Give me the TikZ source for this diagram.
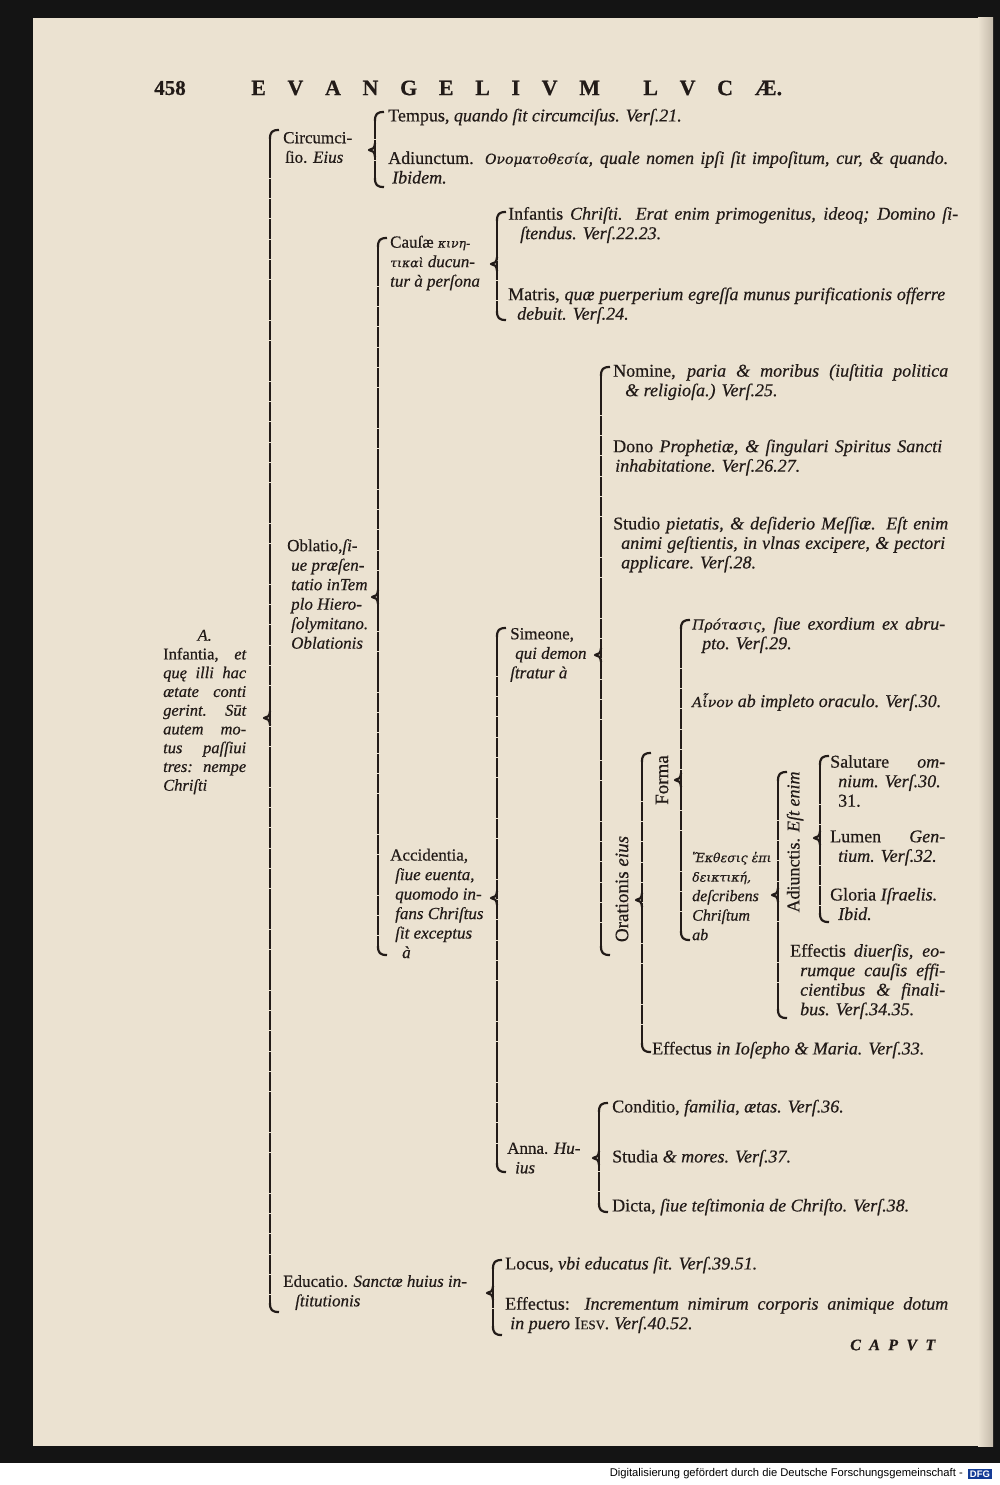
\documentclass[tikz,border=0pt]{standalone}
\usepackage{fontspec}
\setmainfont{Liberation Serif}[FakeBold=0.5]
\newfontfamily\grk{DejaVu Serif}[FakeBold=0.3]
\newfontfamily\ftsans{Liberation Sans}
\definecolor{paper}{RGB}{235,226,209}
\definecolor{paperedge}{RGB}{196,186,170}
\definecolor{ink}{RGB}{34,27,24}
\definecolor{dfgblue}{RGB}{20,60,150}
\newcommand{\iti}[1]{{\itshape #1}}
\newcommand{\gi}[1]{{\grk\itshape\fontsize{14}{19.5}\selectfont #1}}
\newcommand{\gs}[1]{{\grk\itshape\fontsize{12.5}{19.5}\selectfont #1}}
\newcommand{\jl}[2]{\makebox[#1pt][s]{#2}}
\newcommand{\mybrace}[4]{%
 \draw[bracepath] (#1+9,#2) .. controls (#1+2,#2) and (#1,#2+2) .. (#1,#2+9);
 \draw[bracepath] (#1,#4-9) .. controls (#1,#4-2) and (#1+2,#4) .. (#1+9,#4);
 \draw[bracepath,dash pattern=on 19.5pt off 0.8pt] (#1,#2+8) -- (#1,#4-8);
 \draw[bracepath] (#1,#3-7) .. controls (#1,#3-2) and (#1-3,#3) .. (#1-6,#3) .. controls (#1-3,#3) and (#1,#3+2) .. (#1,#3+7);
}
\tikzset{
 bracepath/.style={draw=ink,line width=2.2pt,line join=round},
 txt/.style={inner sep=0pt,text=ink,anchor=west,align=left,font=\fontsize{18}{19.5}\selectfont},
 narrow/.style={font=\fontsize{17}{19.5}\selectfont},
 upr/.style={anchor=center,rotate=90,font=\fontsize{19}{19}\selectfont},
}
\begin{document}
\begin{tikzpicture}[x=1pt,y=-1pt]
\useasboundingbox (0,0) rectangle (1000,1485);
% page
\fill[black!92] (0,0) rectangle (1000,1463);
\fill[white] (0,1463) rectangle (1000,1485);
\fill[paper] (33,18) rectangle (993,1446);
\shade[left color=paper,right color=paperedge] (978,18) rectangle (993,1446);
% header
\node[txt,anchor=center,font=\fontsize{21}{21}\selectfont\bfseries] (pnum) at (170,88) {458};
\node[txt,anchor=west,font=\fontsize{22}{22}\selectfont\bfseries] (head) at (251,88)
 {\makebox[531pt][s]{E\hfill V\hfill A\hfill N\hfill G\hfill E\hfill L\hfill I\hfill V\hfill M\hfill\hfill L\hfill V\hfill C\hfill Æ.}};
% level 0
\node[txt,font=\fontsize{16.5}{18.75}\selectfont] (inf) at (163,712)
 {\makebox[83pt]{\itshape A.}\\
  \makebox[83pt][s]{Infantia, \itshape et}\\
  \makebox[83pt][s]{\itshape quę illi hac}\\
  \makebox[83pt][s]{\itshape ætate conti}\\
  \makebox[83pt][s]{\itshape gerint. Sūt}\\
  \makebox[83pt][s]{\itshape autem mo-}\\
  \makebox[83pt][s]{\itshape tus paſſiui}\\
  \makebox[83pt][s]{\itshape tres: nempe}\\
  \iti{Chriſti}};
\mybrace{270}{130}{718}{1312}
% level 1
\node[txt,narrow] (circ) at (283,147.5) {Circumci-\\\hspace*{2pt}ſio. \iti{Eius}};
\node[txt,narrow] (obl) at (287,594) {Oblatio,\iti{ſi-}\\\hspace*{4pt}\iti{ue præſen-}\\\hspace*{4pt}\iti{tatio inTem}\\\hspace*{4pt}\iti{plo Hiero-}\\\hspace*{4pt}\iti{ſolymitano.}\\\hspace*{4pt}\iti{Oblationis}};
\node[txt,narrow] (edu) at (283,1292.5) {Educatio. \iti{Sanctæ huius in-}\\\hspace*{12pt}\iti{ſtitutionis}};
% Circumcisio
\mybrace{375}{112}{150}{187}
\node[txt] (temp) at (388,117) {Tempus, \iti{quando ſit circumciſus. Verſ.21.}};
\node[txt] (adi) at (388,167.5) {\jl{560}{Adiunctum. \gi{Ονοματοθεσία}\iti{, quale nomen ipſi ſit impoſitum, cur, \& quando.}}\\\hspace*{4pt}\iti{Ibidem.}};
% Oblatio
\mybrace{378}{238}{597}{955}
\node[txt,narrow] (caus) at (390,263) {Cauſæ \gs{κινη-}\\\gs{τικαὶ} \iti{ducun-}\\\iti{tur à perſona}};
\node[txt,narrow] (acc) at (390,903.5) {Accidentia,\\\hspace*{5pt}\iti{ſiue euenta,}\\\hspace*{5pt}\iti{quomodo in-}\\\hspace*{5pt}\iti{fans Chriſtus}\\\hspace*{5pt}\iti{ſit exceptus}\\\hspace*{12pt}\iti{à}};
% Causae
\mybrace{497}{212}{264}{320}
\node[txt] (infc) at (508,225) {\jl{450}{Infantis \iti{Chriſti. Erat enim primogenitus, ideoq; Domino ſi-}}\\\hspace*{12pt}\iti{ſtendus. Verſ.22.23.}};
\node[txt] (matr) at (508,305.5) {\jl{437}{Matris, \iti{quæ puerperium egreſſa munus purificationis offerre}}\\\hspace*{9pt}\iti{debuit. Verſ.24.}};
% Accidentia
\mybrace{497}{628}{898}{1172}
\node[txt,narrow] (sim) at (510,655) {Simeone,\\\hspace*{5pt}\iti{qui demon}\\\iti{ſtratur à}};
\node[txt,narrow] (anna) at (507,1158) {Anna. \iti{Hu-}\\\hspace*{8pt}\iti{ius}};
% Simeone
\mybrace{601}{367}{655}{955}
\node[txt] (nom) at (613,382) {\jl{335}{Nomine, \iti{paria \& moribus (iuſtitia politica}}\\\hspace*{12pt}\iti{\& religioſa.) Verſ.25.}};
\node[txt] (dono) at (613,457.5) {\jl{329}{Dono \iti{Prophetiæ, \& ſingulari Spiritus Sancti}}\\\hspace*{2pt}\iti{inhabitatione. Verſ.26.27.}};
\node[txt] (stud) at (613,544.5) {\jl{335}{Studio \iti{pietatis, \& deſiderio Meſſiæ. Eſt enim}}\\\hspace*{8pt}\jl{324}{\iti{animi geſtientis, in vlnas excipere, \& pectori}}\\\hspace*{8pt}\iti{applicare. Verſ.28.}};
\node[txt,upr] (orat) at (622,889) {Orationis \iti{eius}};
% Orationis
\mybrace{642}{753}{900}{1052}
\node[txt,upr] (forma) at (662,780) {Forma};
\node[txt] (effj) at (652,1050) {Effectus \iti{in Ioſepho \& Maria. Verſ.33.}};
% Forma
\mybrace{681}{620}{780}{940}
\node[txt] (prot) at (692,635) {\jl{253}{\gi{Πρότασις}\iti{, ſiue exordium ex abru-}}\\\hspace*{10pt}\iti{pto. Verſ.29.}};
\node[txt] (ainos) at (692,702) {\gi{Αἶνον} \iti{ab impleto oraculo. Verſ.30.}};
\node[txt,font=\fontsize{16}{19.5}\selectfont] (ekth) at (692,896) {\gs{Ἔκθεσις ἐπι}\\\gs{δεικτική,}\\\iti{deſcribens}\\\iti{Chriſtum}\\\iti{ab}};
% Ekthesis
\mybrace{778}{772}{895}{1018}
\node[txt,upr,font=\fontsize{18}{18}\selectfont] (adn) at (795,842) {Adiunctis. \iti{Eſt enim}};
\node[txt] (effd) at (790,981.5) {\jl{155}{Effectis \iti{diuerſis, eo-}}\\\hspace*{10pt}\jl{145}{\iti{rumque cauſis effi-}}\\\hspace*{10pt}\jl{145}{\iti{cientibus \& finali-}}\\\hspace*{10pt}\iti{bus. Verſ.34.35.}};
% Adiunctis
\mybrace{820}{756}{838}{922}
\node[txt] (sal) at (830,781) {\jl{115}{Salutare \iti{om-}}\\\hspace*{8pt}\iti{nium. Verſ.30.}\\\hspace*{8pt}31.};
\node[txt] (lum) at (830,848) {\jl{115}{Lumen \iti{Gen-}}\\\hspace*{8pt}\iti{tium. Verſ.32.}};
\node[txt] (glo) at (830,904) {Gloria \iti{Iſraelis.}\\\hspace*{8pt}\iti{Ibid.}};
% Anna
\mybrace{599}{1103}{1158}{1212}
\node[txt] (cond) at (612,1108) {Conditio, \iti{familia, ætas. Verſ.36.}};
\node[txt] (studa) at (612,1158) {Studia \iti{\& mores. Verſ.37.}};
\node[txt] (dict) at (612,1207) {Dicta, \iti{ſiue teſtimonia de Chriſto. Verſ.38.}};
% Educatio
\mybrace{493}{1260}{1293}{1335}
\node[txt] (loc) at (505,1265) {Locus, \iti{vbi educatus ſit. Verſ.39.51.}};
\node[txt] (effi) at (505,1315) {\jl{443}{Effectus: \iti{Incrementum nimirum corporis animique dotum}}\\\hspace*{5pt}\iti{in puero} I{\fontsize{13}{13}\selectfont ESV}\iti{. Verſ.40.52.}};
% catchword
\node[txt,font=\fontsize{16}{16}\selectfont\bfseries\itshape] (caput) at (850,1345) {\makebox[85pt][s]{C\hfill A\hfill P\hfill V\hfill T}};
% footer
\node[inner sep=0pt,anchor=east,text=black,font=\ftsans\fontsize{11.2}{11.2}\selectfont] (foot) at (963,1474) {Digitalisierung gefördert durch die Deutsche Forschungsgemeinschaft -};
\node[fill=dfgblue,text=white,inner sep=2pt,font=\ftsans\bfseries\fontsize{9.5}{9.5}\selectfont] (dfg) at (980,1474) {DFG};
\end{tikzpicture}
\end{document}
